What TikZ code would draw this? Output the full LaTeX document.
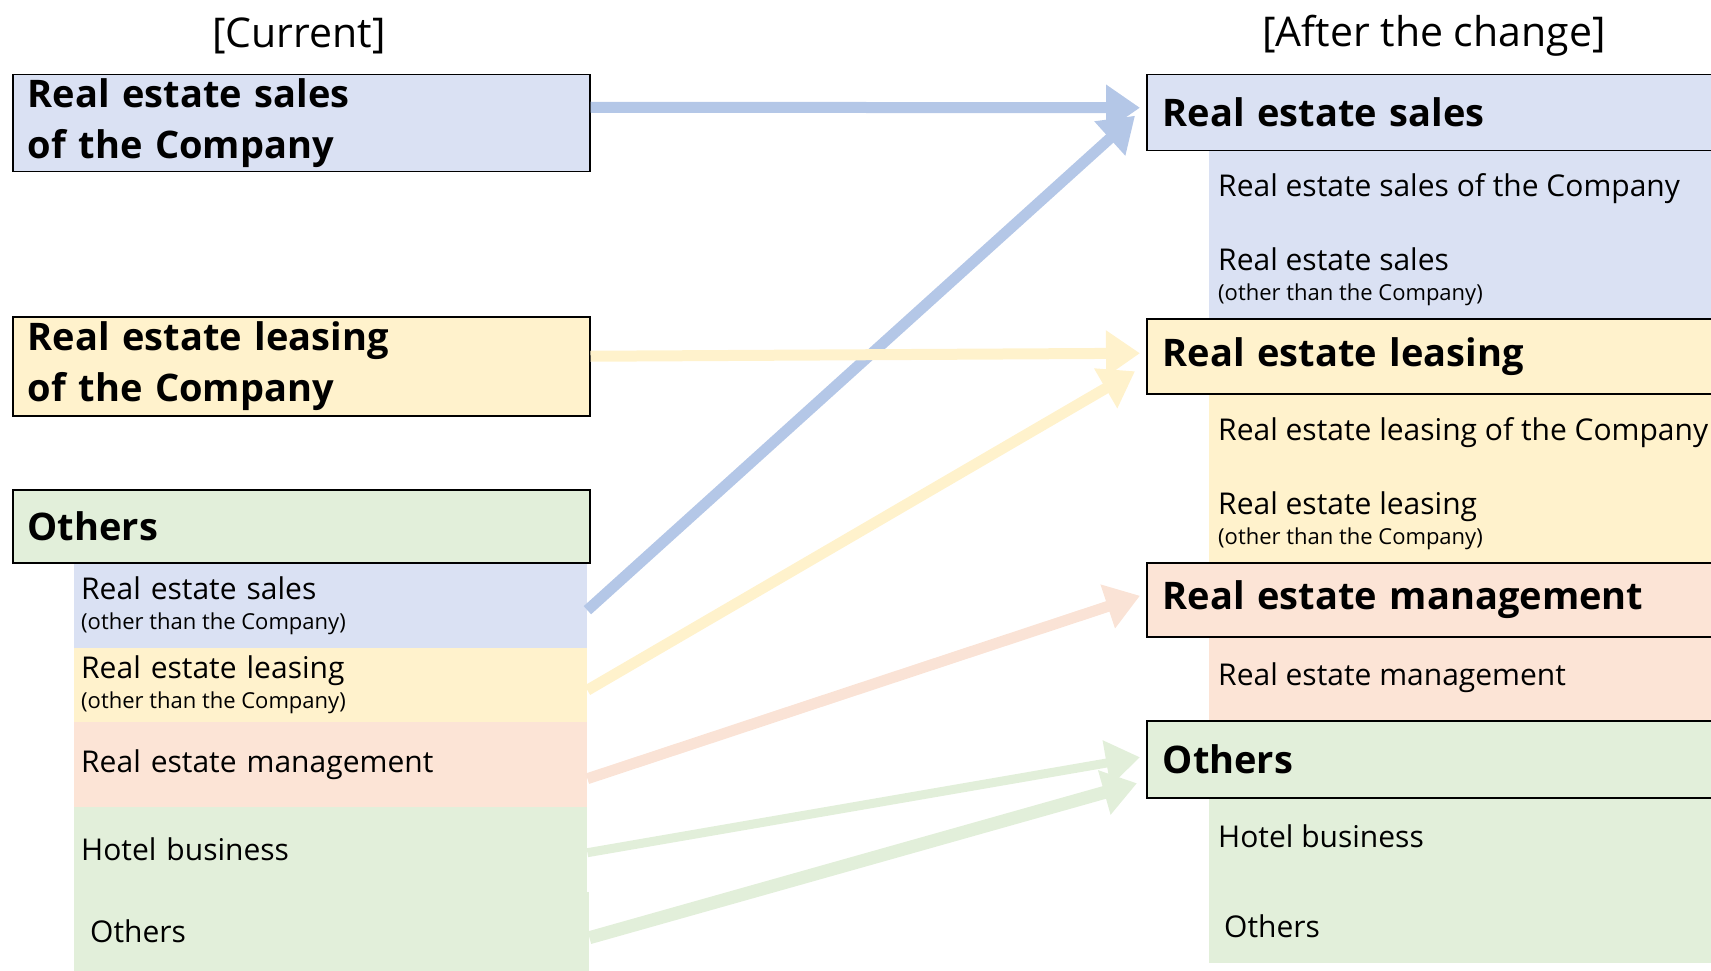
\documentclass[tikz,border=0pt]{standalone}
\usepackage{fontspec}
\setmainfont{Open Sans}
\usetikzlibrary{arrows.meta}

\definecolor{salesfill}{HTML}{DAE1F3}
\definecolor{leasefill}{HTML}{FFF2CC}
\definecolor{mgmtfill}{HTML}{FCE4D6}
\definecolor{otherfill}{HTML}{E2EFDA}
\definecolor{salesarrow}{HTML}{B4C7E7}
\definecolor{leasearrow}{HTML}{FFF2CC}
\definecolor{mgmtarrow}{HTML}{FAE3D6}
\definecolor{otherarrow}{HTML}{E2EFDA}

\newcommand{\smalltext}[1]{\mbox{\fontsize{22}{26}\selectfont\spaceskip=0pt\xspaceskip=0pt #1}}

\begin{document}
\begin{tikzpicture}[x=1pt, y=-1pt,
	title/.style={font=\fontsize{41}{48}\selectfont},
	head/.style={draw=black, line width=1.5pt, anchor=north west, inner xsep=15pt, inner ysep=0pt, align=left, font=\fontsize{38}{51}\selectfont\bfseries},
	item/.style={anchor=north west, inner xsep=7pt, inner ysep=0pt, align=left, text width=499pt, font=\fontsize{30}{36}\selectfont},
	area/.style={anchor=north west, inner sep=0pt, minimum width=521pt},
	label/.style={anchor=west, inner sep=0pt, align=left, font=\fontsize{30}{36}\selectfont},
	link/.style={line width=11pt, -{Triangle[length=34pt,width=44pt]}}
]
	\useasboundingbox (0,0) rectangle (1711,971);
	\clip (0,0) rectangle (1711,971);

	\node[title] (t1) at (299,36) {[Current]};
	\node[title] (t2) at (1434,36) {[After the change]};

	\node[head, fill=salesfill, text width=547pt, minimum height=97pt] (l1) at (12,74) {Real estate sales\\of the Company};
	\node[head, fill=leasefill, text width=547pt, minimum height=99pt] (l2) at (12,316) {Real estate leasing\\of the Company};
	\node[head, fill=otherfill, text width=547pt, minimum height=73pt] (l3) at (12,489) {Others};

	\node[item, fill=salesfill, minimum height=84pt] (l4) at (74,564) {Real estate sales\\[-6pt]\smalltext{(other than the Company)}};
	\node[item, fill=leasefill, minimum height=74pt] (l5) at (74,648) {Real estate leasing\\[-6pt]\smalltext{(other than the Company)}};
	\node[item, fill=mgmtfill, minimum height=85pt] (l6) at (74,722) {Real estate management};
	\node[item, fill=otherfill, minimum height=85pt] (l7) at (74,807) {Hotel business};
	\node[item, fill=otherfill, minimum height=79pt, inner xsep=16pt, text width=483pt] (l8) at (74,892) {Others};

	\node[area, fill=salesfill, minimum height=168pt] (a1) at (1209,150) {};
	\node[area, fill=leasefill, minimum height=169pt] (a2) at (1209,393) {};
	\node[area, fill=mgmtfill, minimum height=84pt] (a3) at (1209,636) {};
	\node[area, fill=otherfill, minimum height=166pt] (a4) at (1209,797) {};

	\node[head, fill=salesfill, text width=552pt, inner xsep=16pt, minimum height=76pt] (r1) at (1146,74) {Real estate sales};
	\node[head, fill=leasefill, text width=552pt, inner xsep=16pt, minimum height=75pt] (r2) at (1146,318) {Real estate leasing};
	\node[head, fill=mgmtfill, text width=552pt, inner xsep=16pt, minimum height=74pt] (r3) at (1146,562) {Real estate management};
	\node[head, fill=otherfill, text width=552pt, inner xsep=16pt, minimum height=77pt] (r4) at (1146,720) {Others};

	\node[label] (s1) at (1218,189) {Real estate sales of the Company};
	\node[label] (s2) at (1218,277) {Real estate sales\\[-6pt]\smalltext{(other than the Company)}};
	\node[label] (s3) at (1218,433) {Real estate leasing of the Company};
	\node[label] (s4) at (1218,521) {Real estate leasing\\[-6pt]\smalltext{(other than the Company)}};
	\node[label] (s5) at (1218,678) {Real estate management};
	\node[label] (s6) at (1218,836) {Hotel business};
	\node[label] (s7) at (1224,926) {Others};

	\draw[link, draw=salesarrow] ([yshift=16pt]l1.east) -- ([xshift=-6pt, yshift=5pt]r1.west);
	\draw[link, draw=salesarrow] ([yshift=-4pt]l4.east) -- ([xshift=-11pt, yshift=-3pt]r1.west);
	\draw[link, draw=leasearrow] ([yshift=10pt]l2.east) -- ([xshift=-6pt, yshift=3pt]r2.west);
	\draw[link, draw=leasearrow] ([yshift=-5pt]l5.east) -- ([xshift=-11pt, yshift=-15pt]r2.west);
	\draw[link, draw=mgmtarrow] ([yshift=-14pt]l6.east) -- ([xshift=-6pt, yshift=4pt]r3.west);
	\draw[link, draw=otherarrow, line width=9pt] ([yshift=-3pt]l7.east) -- ([xshift=-6pt, yshift=2pt]r4.west);
	\draw[link, draw=otherarrow, line width=13pt] ([yshift=-6pt]l8.east) -- ([xshift=-9pt, yshift=-24pt]r4.west);
\end{tikzpicture}
\end{document}
